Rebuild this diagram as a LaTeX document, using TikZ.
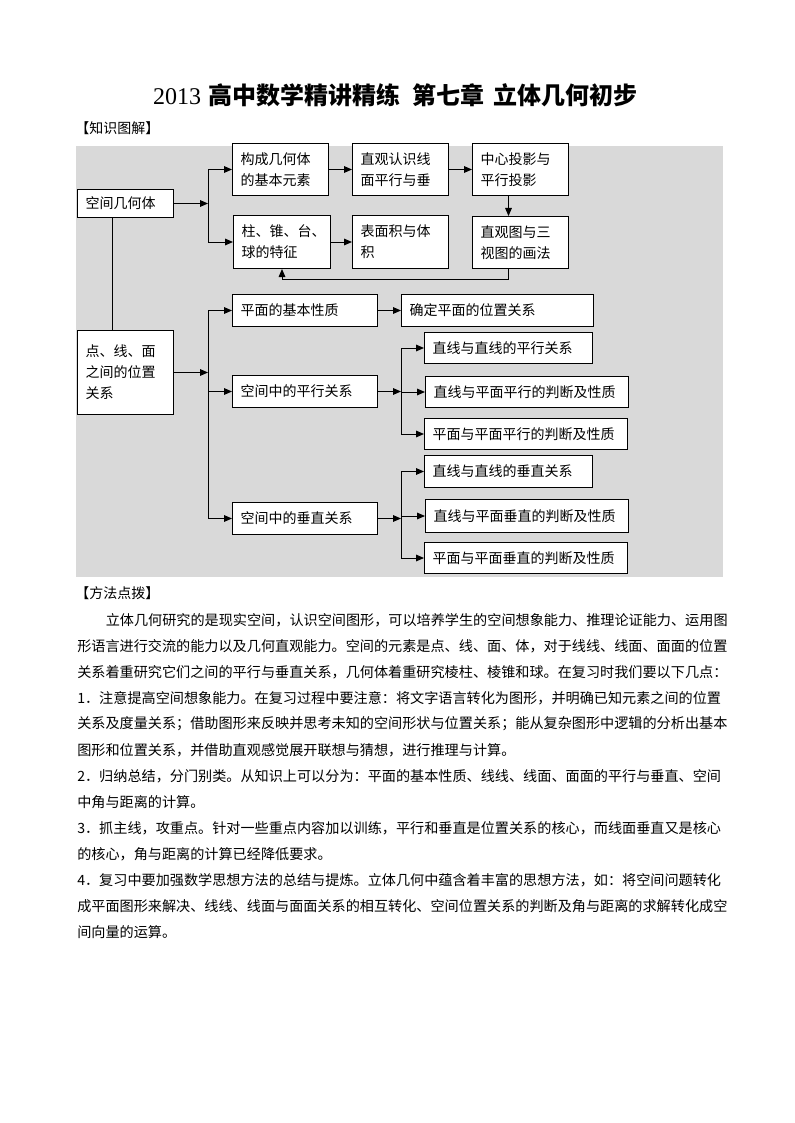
\documentclass[tikz,border=0pt]{standalone}
\usepackage{fontspec}
\setmainfont{Noto Sans CJK SC}
\newfontfamily\numfont{Liberation Serif}
\usetikzlibrary{positioning,calc,arrows.meta}
\newcommand\boxfont{\fontsize{10.5pt}{15.75pt}\selectfont}
\newcommand\bodyfont{\fontsize{10.6pt}{12pt}\selectfont}
\tikzset{kbox/.style={draw, fill=white, line width=0.75pt, anchor=north west, inner xsep=6pt, inner ysep=0pt, align=left, font=\boxfont}}
\tikzset{tip/.style={draw, line width=0.75pt, -{Triangle[length=6pt,width=5pt]}}}
\tikzset{link/.style={draw, line width=0.75pt}}
\tikzset{txt/.style={anchor=west, inner sep=0pt, font=\bodyfont}}

\begin{document}
\begin{tikzpicture}[x=0.75pt,y=-0.75pt]
            \useasboundingbox (0,0) rectangle (794,1123);
            \fill[white] (0,0) rectangle (794,1123);
            \node[font=\fontsize{18pt}{20pt}\selectfont\bfseries] (title) at (395.5,95)
                {{\mdseries\numfont 2013}\hspace{0.3em}高中数学精讲精练\hspace{0.5em}第七章\hspace{0.4em}立体几何初步};
            \node[txt, font=\boxfont] (head1) at (75,128) {【知识图解】};
            % the diagram
            \fill[black!15] (76,146) rectangle (723,577);
            \coordinate (fork1) at (208,0);
            \coordinate (fork2) at (401,0);
            \node[kbox, text width=60pt, minimum height=21pt] (solid) at (77,189) {空间几何体};
            \node[kbox, text width=60pt, minimum height=39pt] (elem) at (232,143) {构成几何体\\的基本元素};
            \node[kbox, text width=60pt, minimum height=39pt] (intu) at (352,143) {直观认识线\\面平行与垂};
            \node[kbox, text width=60pt, minimum height=39pt] (proj) at (472,143) {中心投影与\\平行投影};
            \node[kbox, text width=60.75pt, minimum height=39.75pt] (feat) at (233,215) {柱、锥、台、\\球的特征};
            \node[kbox, text width=60pt, minimum height=39.75pt] (area) at (352,215) {表面积与体\\积};
            \node[kbox, text width=60pt, minimum height=39pt] (view) at (472,216) {直观图与三\\视图的画法};
            \node[kbox, text width=60pt, minimum height=63pt] (pos) at (77,330) {点、线、面\\之间的位置\\关系};
            \node[kbox, text width=96.75pt, minimum height=24pt] (basic) at (232,294) {平面的基本性质};
            \node[kbox, text width=132pt, minimum height=24pt] (plane) at (401,294) {确定平面的位置关系};
            \node[kbox, text width=96.75pt, minimum height=24pt] (para) at (232,375) {空间中的平行关系};
            \node[kbox, text width=96.75pt, minimum height=24pt] (perp) at (232,502) {空间中的垂直关系};
            \node[kbox, text width=114pt, minimum height=23.25pt] (llp) at (424,332) {直线与直线的平行关系};
            \node[kbox, text width=140.25pt, minimum height=23.25pt] (lpp) at (425,376) {直线与平面平行的判断及性质};
            \node[kbox, text width=140.25pt, minimum height=23.25pt] (ppp) at (424,418) {平面与平面平行的判断及性质};
            \node[kbox, text width=114pt, minimum height=24pt] (llv) at (424,455) {直线与直线的垂直关系};
            \node[kbox, text width=140.25pt, minimum height=24.75pt] (lpv) at (425,499) {直线与平面垂直的判断及性质};
            \node[kbox, text width=140.25pt, minimum height=23.25pt] (ppv) at (424,542) {平面与平面垂直的判断及性质};
            % upper part
            \draw[tip] (solid) -- (solid -| fork1);
            \draw[link] (fork1 |- elem) -- (fork1 |- feat);
            \foreach \n in {elem, feat} {
                \draw[tip] (fork1 |- \n) -- (\n);
            }
            \draw[tip] (elem) -- (intu);
            \draw[tip] (intu) -- (proj);
            \draw[tip] (feat) -- (area);
            \draw[tip] ([xshift=-9pt]proj.south) -- ([xshift=-9pt]view.north);
            \draw[tip] ([xshift=-9pt]view.south) -- ++(0,10) -| (feat.south);
            \draw[link] ([xshift=-10pt]solid.south) -- ([xshift=-10pt]pos.north);
            % lower part
            \draw[tip] (pos) -- (pos -| fork1);
            \draw[link] (fork1 |- basic) -- (fork1 |- perp);
            \foreach \n in {basic, para, perp} {
                \draw[tip] (fork1 |- \n) -- (\n);
            }
            \draw[tip] (basic) -- (plane);
            \draw[tip] (para) -- (para -| fork2);
            \draw[link] (fork2 |- llp) -- (fork2 |- ppp);
            \foreach \n in {llp, lpp, ppp} {
                \draw[tip] (fork2 |- \n) -- (\n);
            }
            \draw[tip] (perp) -- (perp -| fork2);
            \draw[link] (fork2 |- llv) -- (fork2 |- ppv);
            \foreach \n in {llv, lpv, ppv} {
                \draw[tip] (fork2 |- \n) -- (\n);
            }
            % text below
            \node[txt, font=\boxfont] (head2) at (75,593) {【方法点拨】};
            \node[txt] (line0) at (105.5,620) {立体几何研究的是现实空间，认识空间图形，可以培养学生的空间想象能力、推理论证能力、运用图};
            \node[txt] (line1) at (77,646) {形语言进行交流的能力以及几何直观能力。空间的元素是点、线、面、体，对于线线、线面、面面的位置};
            \node[txt] (line2) at (77,672) {关系着重研究它们之间的平行与垂直关系，几何体着重研究棱柱、棱锥和球。在复习时我们要以下几点：};
            \node[txt] (line3) at (77,698) {1．注意提高空间想象能力。在复习过程中要注意：将文字语言转化为图形，并明确已知元素之间的位置};
            \node[txt] (line4) at (77,724) {关系及度量关系；借助图形来反映并思考未知的空间形状与位置关系；能从复杂图形中逻辑的分析出基本};
            \node[txt] (line5) at (77,750) {图形和位置关系，并借助直观感觉展开联想与猜想，进行推理与计算。};
            \node[txt] (line6) at (77,776) {2．归纳总结，分门别类。从知识上可以分为：平面的基本性质、线线、线面、面面的平行与垂直、空间};
            \node[txt] (line7) at (77,802) {中角与距离的计算。};
            \node[txt] (line8) at (77,828) {3．抓主线，攻重点。针对一些重点内容加以训练，平行和垂直是位置关系的核心，而线面垂直又是核心};
            \node[txt] (line9) at (77,854) {的核心，角与距离的计算已经降低要求。};
            \node[txt] (line10) at (77,880) {4．复习中要加强数学思想方法的总结与提炼。立体几何中蕴含着丰富的思想方法，如：将空间问题转化};
            \node[txt] (line11) at (77,906) {成平面图形来解决、线线、线面与面面关系的相互转化、空间位置关系的判断及角与距离的求解转化成空};
            \node[txt] (line12) at (77,932) {间向量的运算。};

        \end{tikzpicture}
\end{document}
